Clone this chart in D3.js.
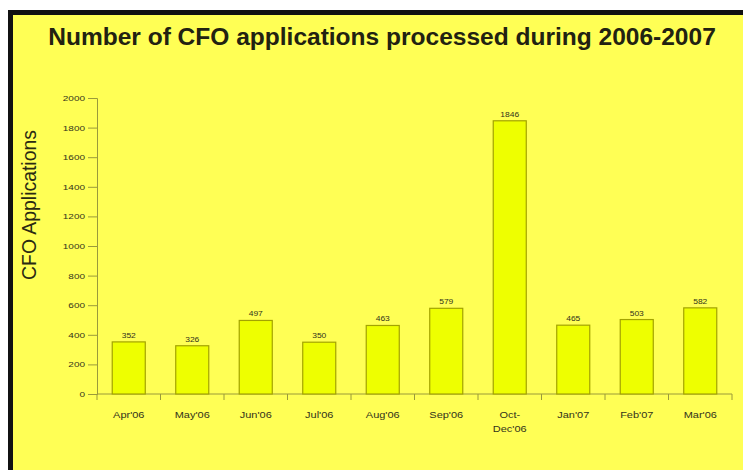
<!DOCTYPE html>
<html><head><meta charset="utf-8">
<script src="https://cdn.jsdelivr.net/npm/d3@7"></script>
<style>html,body{margin:0;padding:0;background:#fff;overflow:hidden}svg{display:block;position:fixed;left:0;top:0}</style>
</head><body>
<svg id="c" width="743" height="470"></svg>
<script>
const categories = ["Apr'06","May'06","Jun'06","Jul'06","Aug'06","Sep'06","Oct-Dec'06","Jan'07","Feb'07","Mar'06"];
const values = [352,326,497,350,463,579,1846,465,503,582];
const yTicks = [0,200,400,600,800,1000,1200,1400,1600,1800,2000];
const title = "Number of CFO applications processed during 2006-2007";
const yLabel = "CFO Applications";

const svg = d3.select("#c");
const W=743,H=470;
const FF="Liberation Sans, Arial, sans-serif";
svg.append("rect").attr("x",0).attr("y",0).attr("width",W).attr("height",H).attr("fill","#ffffff");
svg.append("rect").attr("x",8).attr("y",10).attr("width",W-8).attr("height",H-10).attr("fill","#ffff55");
svg.append("path").attr("d","M10.5,470V12.5H743").attr("fill","none").attr("stroke","#111").attr("stroke-width",5);

const x = d3.scaleBand().domain(categories).range([97,732]).paddingInner(0.48).paddingOuter(0.24);
const y = d3.scaleLinear().domain([0,2000]).range([394,98]);
const axisCol="#9a9a3a", txt="#33331a";

const tt = svg.append("text").attr("x",382).attr("y",45).attr("text-anchor","middle")
  .attr("font-family",FF).attr("font-weight","bold")
  .attr("font-size",24).attr("fill","#222211").text(title);
const tw = tt.node().getComputedTextLength();
if (tw>0) tt.attr("font-size",24*668/tw);

// y axis
const ya = svg.append("g").attr("transform","translate(97,0)")
  .call(d3.axisLeft(y).tickValues(yTicks).tickSize(9).tickPadding(3).tickFormat(d3.format("d")));
ya.select(".domain").attr("stroke",axisCol);
ya.selectAll(".tick line").attr("stroke",axisCol);
ya.selectAll("text").attr("font-family",FF).attr("font-size",10).attr("fill",txt)
  .attr("transform","scale(1,0.75)");

// x axis
const xa = svg.append("g").attr("transform","translate(0,394)")
  .call(d3.axisBottom(x).tickSize(0).tickPadding(20));
xa.select(".domain").attr("stroke",axisCol).attr("d","M97,0H732");
xa.selectAll("text").attr("font-family",FF).attr("font-size",11).attr("fill",txt)
  .attr("transform","scale(1,0.85)")
  .each(function(d){
    const t=d3.select(this);
    if(d.indexOf("-")>0){
      const parts=d.split("-");
      t.text(null);
      t.append("tspan").attr("x",0).attr("dy","0.71em").text(parts[0]+"-");
      t.append("tspan").attr("x",0).attr("dy","1.5em").text(parts[1]);
    }
  });
// separator ticks between categories
const step = x.step();
const bounds = d3.range(categories.length+1).map(i=>97+i*step);
svg.append("g").selectAll("line").data(bounds).join("line")
  .attr("x1",d=>d).attr("x2",d=>d).attr("y1",394).attr("y2",400).attr("stroke",axisCol);

// bars
svg.append("g").selectAll("rect").data(values).join("rect")
  .attr("x",(d,i)=>x(categories[i])).attr("width",x.bandwidth())
  .attr("y",d=>y(d)).attr("height",d=>y(0)-y(d))
  .attr("fill","#eeff00").attr("stroke","#a3a300").attr("stroke-width",1.2);

// value labels
svg.append("g").selectAll("text").data(values).join("text")
  .attr("transform",(d,i)=>`translate(${x(categories[i])+x.bandwidth()/2},${y(d)-4}) scale(1,0.75)`)
  .attr("text-anchor","middle").attr("font-family",FF)
  .attr("font-size",8.5).attr("fill",txt).text(d=>d);

// y label
const yl = svg.append("text").attr("transform","translate(36,205) rotate(-90)").attr("text-anchor","middle")
  .attr("font-family",FF).attr("font-size",18).attr("fill","#2a2a12").text(yLabel);
const yw = yl.node().getComputedTextLength();
if (yw>0) yl.attr("font-size",18*150/yw);

// keep right margin clean
svg.append("rect").attr("x",734).attr("y",15).attr("width",9).attr("height",H-15).attr("fill","#ffff55");
</script>
</body></html>
